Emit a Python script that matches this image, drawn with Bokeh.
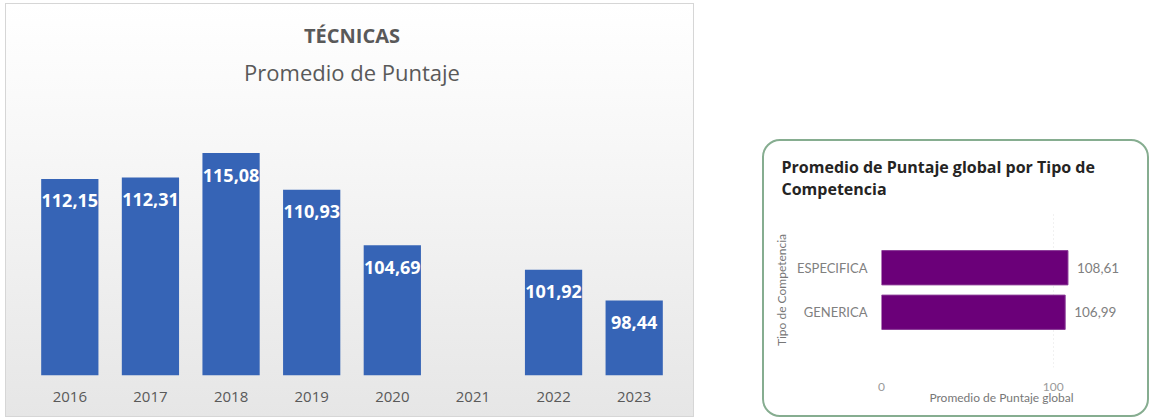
from bokeh.plotting import figure
from bokeh.models import Range1d, FactorRange, Title, FixedTicker, ColumnDataSource, Spacer
from bokeh.layouts import row, column
from bokeh.core.properties import value
from bokeh.embed import file_html
from bokeh.resources import INLINE

# ---- data: left chart ----
years = ["2016", "2017", "2018", "2019", "2020", "2021", "2022", "2023"]
scores = [112.15, 112.31, 115.08, 110.93, 104.69, None, 101.92, 98.44]
left_title = "TÉCNICAS"
left_subtitle = "Promedio de Puntaje"

# ---- data: right chart ----
comp_types = ["ESPECIFICA", "GENERICA"]
comp_scores = [108.61, 106.99]
right_title = "Promedio de Puntaje global por Tipo de\nCompetencia"
right_xlabel = "Promedio de Puntaje global"
right_ylabel = "Tipo de Competencia"
right_ticks = [0, 100]


def fmt(v):
    return f"{v:.2f}".replace(".", ",")


# ================= left chart =================
bx = [y for y, s in zip(years, scores) if s is not None]
bt = [s for s in scores if s is not None]
src1 = ColumnDataSource(dict(x=bx, top=bt, lab=[fmt(v) for v in bt]))

p1 = figure(x_range=FactorRange(*years, range_padding=0), y_range=Range1d(90, 121.9),
            width=689, height=414, output_backend="svg", toolbar_location=None,
            min_border_left=23, min_border_right=21, min_border_bottom=43, min_border_top=88)
p1.styles = {"background": "linear-gradient(to bottom, #ffffff 0%, #f7f7f7 35%, #e6e6e6 100%)",
             "border": "1px solid #d6d6d6", "box-sizing": "border-box"}
p1.background_fill_alpha = 0
p1.border_fill_alpha = 0
p1.outline_line_color = None
p1.grid.grid_line_color = None
p1.yaxis.visible = False

p1.add_layout(Title(text=left_subtitle, align="center", text_font="Open Sans",
                    text_font_size="22px", text_font_style="normal", text_color="#595959",
                    standoff=12), "above")
p1.add_layout(Title(text=left_title, align="center", text_font="Open Sans",
                    text_font_size="20px", text_font_style="bold", text_color="#595959",
                    standoff=0), "above")

p1.vbar(x="x", top="top", bottom=90, width=0.71, source=src1,
        fill_color="#3664b6", line_color=None)
p1.text(x="x", y="top", text="lab", source=src1, y_offset=22,
        text_align="center", text_baseline="middle", text_color="white",
        text_font=value("Open Sans"), text_font_size="18px", text_font_style="bold")

ax = p1.xaxis[0]
ax.axis_line_color = None
ax.major_tick_line_color = None
ax.minor_tick_line_color = None
ax.major_label_text_font = "Open Sans"
ax.major_label_text_font_size = "15px"
ax.major_label_text_color = "#595959"
ax.major_label_standoff = 10

# ================= right chart =================
src2 = ColumnDataSource(dict(y=comp_types, right=comp_scores, lab=[fmt(v) for v in comp_scores]))
p2 = figure(y_range=FactorRange(*list(reversed(comp_types)), range_padding=0.74),
            x_range=Range1d(0, 139.8), width=387, height=278,
            output_backend="svg", toolbar_location=None,
            min_border_left=117, min_border_right=30, min_border_bottom=52, min_border_top=70)
p2.styles = {"border": "2px solid #86ad90", "border-radius": "18px",
             "background-color": "white", "box-sizing": "border-box", "overflow": "hidden"}
p2.background_fill_alpha = 0
p2.border_fill_alpha = 0
p2.outline_line_color = None

p2.add_layout(Title(text=right_title, align="left", offset=-100, text_font="Open Sans",
                    text_font_size="16px", text_font_style="bold", text_color="#252423",
                    standoff=25), "above")

p2.hbar(y="y", right="right", left=0, height=0.77, source=src2,
        fill_color="#6b0079", line_color="#8a3a96", line_width=1)
p2.text(x="right", y="y", text="lab", source=src2, x_offset=9,
        text_align="left", text_baseline="middle", text_color="#808080",
        text_font=value("Lato"), text_font_size="13.5px")

p2.ygrid.grid_line_color = None
p2.xgrid.grid_line_color = "#e2e2e2"
p2.xgrid.grid_line_dash = "1 3"
p2.xaxis.ticker = FixedTicker(ticks=right_ticks)

xa = p2.xaxis[0]
xa.axis_line_color = None
xa.major_tick_line_color = None
xa.minor_tick_line_color = None
xa.major_label_text_font = "Lato"
xa.major_label_text_font_size = "12px"
xa.major_label_text_color = "#9a9a9a"
xa.major_label_standoff = 9
xa.axis_label = right_xlabel
xa.axis_label_text_font = "Lato"
xa.axis_label_text_font_size = "12px"
xa.axis_label_text_font_style = "normal"
xa.axis_label_text_color = "#777777"
xa.axis_label_standoff = -4

ya = p2.yaxis[0]
ya.axis_line_color = None
ya.major_tick_line_color = None
ya.minor_tick_line_color = None
ya.major_label_text_font = "Lato"
ya.major_label_text_font_size = "13px"
ya.major_label_text_color = "#808080"
ya.major_label_standoff = 8
ya.axis_label = right_ylabel
ya.axis_label_text_font = "Lato"
ya.axis_label_text_font_size = "12px"
ya.axis_label_text_font_style = "normal"
ya.axis_label_text_color = "#777777"
ya.axis_label_standoff = 5

layout = row(Spacer(width=5), column(Spacer(height=3), p1), Spacer(width=68),
             column(Spacer(height=139), p2))
open("out.html", "w").write(file_html(layout, INLINE))
